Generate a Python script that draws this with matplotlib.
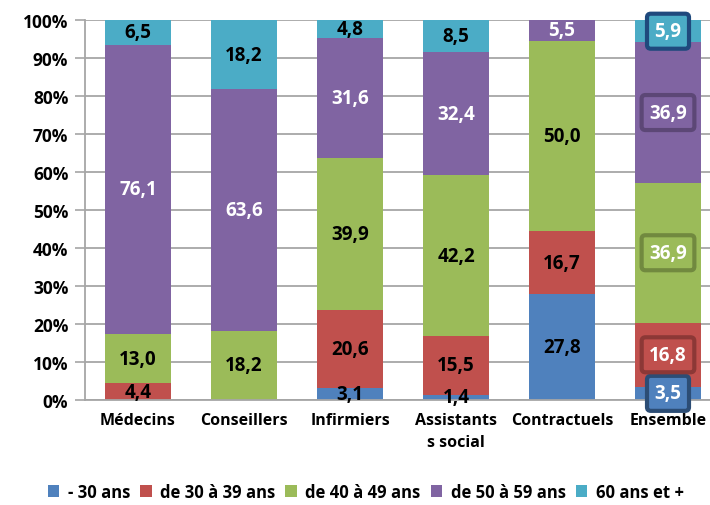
import numpy as np
import matplotlib
matplotlib.use("Agg")
import matplotlib.pyplot as plt

plt.rcParams['font.family'] = ['Open Sans', 'DejaVu Sans']
plt.rcParams['font.weight'] = 'bold'

# données (% par tranche d'âge)
categories = ['Médecins', 'Conseillers', 'Infirmiers', 'Assistants\ns social', 'Contractuels', 'Ensemble']
series = ['- 30 ans', 'de 30 à 39 ans', 'de 40 à 49 ans', 'de 50 à 59 ans', '60 ans et +']
moins_30 = [0.0, 0.0, 3.1, 1.4, 27.8, 3.5]
de_30_39 = [4.4, 0.0, 20.6, 15.5, 16.7, 16.8]
de_40_49 = [13.0, 18.2, 39.9, 42.2, 50.0, 36.9]
de_50_59 = [76.1, 63.6, 31.6, 32.4, 5.5, 36.9]
plus_60 = [6.5, 18.2, 4.8, 8.5, 0.0, 5.9]

colors = ['#4F81BD', '#C0504D', '#9BBB59', '#8064A2', '#4BACC6']
edge_dark = ['#2C4D75', '#8C3836', '#71893F', '#5C4776', '#1F497D']
text_col = ['black', 'black', 'black', 'white', 'black']

values = np.array([moins_30, de_30_39, de_40_49, de_50_59, plus_60])

fig = plt.figure(figsize=(7.1, 5.06), dpi=100)
ax = fig.add_axes([85 / 710, 1 - 401 / 506, 636 / 710, 380 / 506])

x = np.arange(len(categories))
bottom = np.zeros(len(categories))
for i, (name, vals) in enumerate(zip(series, values)):
    ax.bar(x, vals, 0.63, bottom=bottom, color=colors[i], label=name, zorder=2)
    for j, v in enumerate(vals):
        if v <= 0:
            continue
        y = bottom[j] + v / 2
        lab = f'{v:.1f}'.replace('.', ',')
        if j == len(categories) - 1:
            # série "Ensemble" : étiquettes encadrées
            ax.text(x[j], y, lab, ha='center', va='center', color='white',
                    fontsize=13.5, fontweight='bold', zorder=4,
                    bbox=dict(boxstyle='round,pad=0.4,rounding_size=0.2',
                              facecolor=colors[i], edgecolor=edge_dark[i], linewidth=3))
        else:
            ax.text(x[j], y, lab, ha='center', va='center', color=text_col[i],
                    fontsize=13.5, fontweight='bold', zorder=4)
    bottom += vals

ax.set_xlim(-0.5, len(categories) - 0.5)
ax.set_ylim(0, 100)
ax.set_yticks(np.arange(0, 101, 10))
ax.set_yticklabels([f'{t}%' for t in range(0, 101, 10)], fontsize=12.5, fontweight='bold')
ax.set_xticks(x)
ax.set_xticklabels(categories, fontsize=11.5, fontweight='bold', linespacing=1.45, va='top')
ax.tick_params(axis='x', length=0, pad=9)
ax.tick_params(axis='y', length=7, width=1.2, color='#A6A6A6', pad=5)
for s in ['top', 'right']:
    ax.spines[s].set_visible(False)
for s in ['left', 'bottom']:
    ax.spines[s].set_color('#A6A6A6')
    ax.spines[s].set_linewidth(1.3)
ax.yaxis.grid(True, color='#A6A6A6', linewidth=1.3, zorder=0)
ax.set_axisbelow(True)

fig.legend(loc='lower center', bbox_to_anchor=(0.515, -0.022), ncol=5, frameon=False,
           prop={'size': 12, 'weight': 'bold'}, handlelength=0.7, handleheight=0.7,
           handletextpad=0.5, columnspacing=0.6)

fig.savefig('out.png', dpi=100)
